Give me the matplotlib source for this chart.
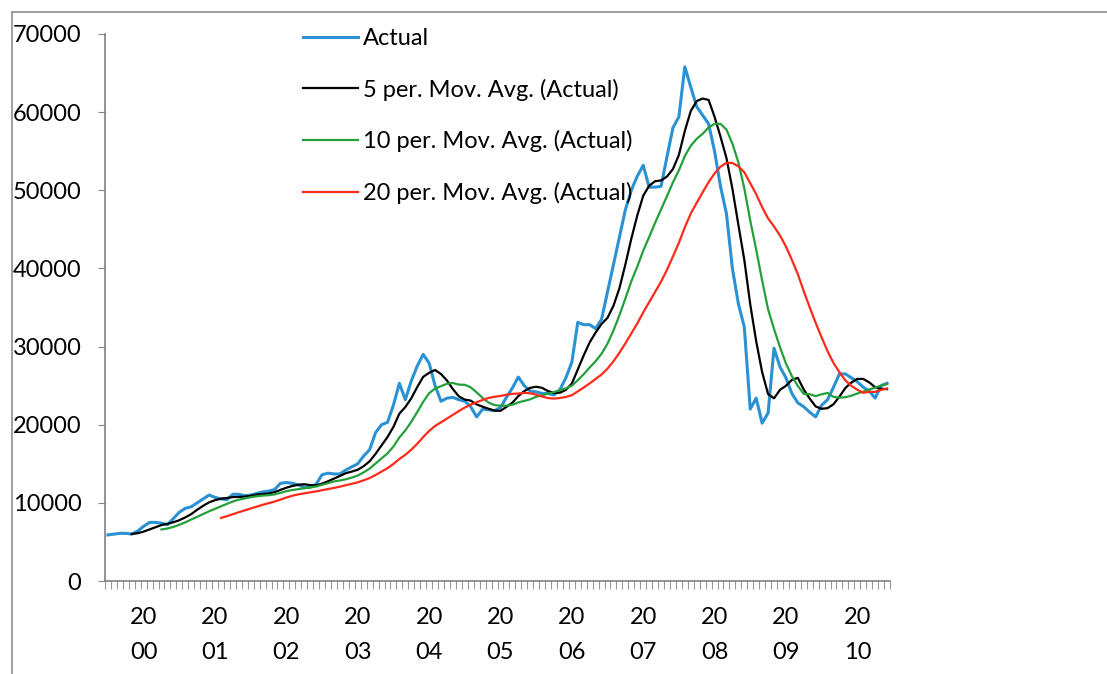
import matplotlib.pyplot as plt
import numpy as np
import pandas as pd

# monthly values, Jan 2000 -> Dec 2010
actual = [5900, 6000, 6100, 6100, 6000, 6400, 7000, 7500, 7500, 7400,
          7200, 8000, 8800, 9300, 9500, 10000, 10500, 11000, 10700, 10500,
          10400, 11100, 11100, 10900, 11000, 11200, 11400, 11500, 11700, 12500,
          12600, 12500, 12300, 12000, 12000, 12400, 13600, 13800, 13700, 13700,
          14200, 14600, 15000, 16000, 16800, 19000, 20000, 20300, 22500, 25300,
          23200, 25600, 27500, 29000, 27900, 25000, 23000, 23400, 23500, 23200,
          23000, 22300, 21000, 22000, 21900, 21800, 22200, 23500, 24700, 26100,
          25000, 24300, 24200, 24000, 24000, 23800, 24500, 26000, 28000, 33100,
          32800, 32800, 32300, 33500, 37000, 40500, 44000, 47500, 50000, 51800,
          53200, 50400, 50400, 50500, 54300, 58000, 59400, 65800, 63200, 60700,
          59600, 58500, 55000, 50500, 47000, 40000, 35500, 32500, 22000, 23400,
          20200, 21500, 29800, 27400, 26000, 24000, 22800, 22300, 21600, 21000,
          22500, 23200, 24800, 26500, 26500, 26000, 25500, 24800, 24300, 23400,
          25000, 25300]
years = ["00", "01", "02", "03", "04", "05", "06", "07", "08", "09", "10"]
ma_periods = [5, 10, 20]
ma_colors = ["black", "#23a03a", "#ff2a1a"]

plt.rcParams['font.family'] = ['Lato', 'DejaVu Sans']

s = pd.Series(actual, dtype=float)
x = np.arange(len(actual))

fig = plt.figure(figsize=(11.07, 6.74), dpi=100)
ax = fig.add_axes([105/1107, 1 - 581/674, 785/1107, 547/674])

ax.plot(x, actual, color="#2a92d4", lw=2.2, label="Actual")
for n, c in zip(ma_periods, ma_colors):
    ax.plot(x, s.rolling(n).mean(), color=c, lw=1.6,
            label=f"{n} per. Mov. Avg. (Actual)")

ax.set_xlim(-0.5, len(actual) - 0.5)
ax.set_ylim(0, 70000)
ax.set_yticks(np.arange(0, 70001, 10000))
ax.tick_params(axis='y', labelsize=17, length=5, color="#888888", pad=12)

ax.set_xticks([6 + 12 * k for k in range(len(years))])
ax.set_xticklabels(["20\n" + y for y in years], linespacing=1.8)
ax.set_xticks(np.arange(-0.5, len(actual)), minor=True)
ax.tick_params(axis='x', which='major', length=0, labelsize=17, pad=19)
ax.tick_params(axis='x', which='minor', length=6, color="#999999", width=0.8)

for side in ["top", "right"]:
    ax.spines[side].set_visible(False)
for side in ["left", "bottom"]:
    ax.spines[side].set_color("#808080")
    ax.spines[side].set_linewidth(1.2)

ax.legend(loc="upper left", bbox_to_anchor=(303/1107, 1 - 28/674),
          bbox_transform=fig.transFigure, frameon=False, fontsize=17,
          handlelength=2.35, handletextpad=0.2, labelspacing=1.25,
          borderpad=0, borderaxespad=0)

# outer chart border (top and left edges visible)
fig.add_artist(plt.Line2D([12/1107, 12/1107], [0, 1 - 12/674],
                          transform=fig.transFigure, color="#909090", lw=1.2))
fig.add_artist(plt.Line2D([12/1107, 1], [1 - 12/674, 1 - 12/674],
                          transform=fig.transFigure, color="#909090", lw=1.2))

plt.savefig("out.png", dpi=100)
